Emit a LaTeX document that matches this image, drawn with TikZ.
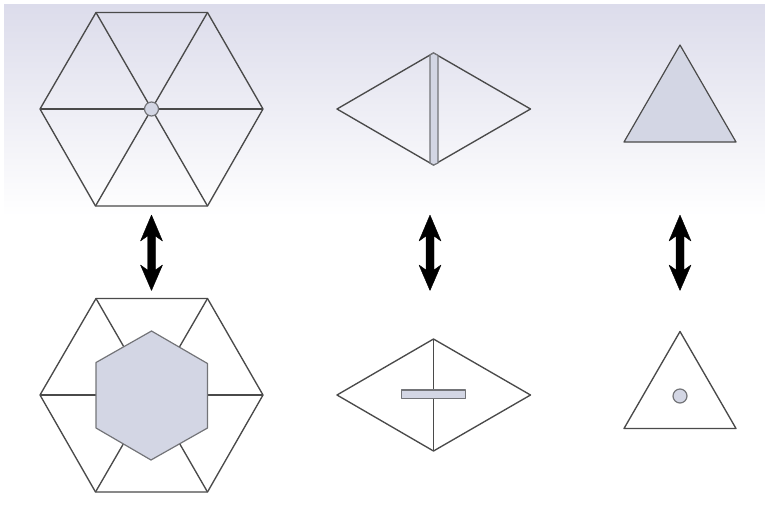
\documentclass[tikz,border=0pt]{standalone}
\definecolor{shapefill}{HTML}{D3D6E4}
\definecolor{edge}{HTML}{4A4A4A}
\definecolor{bgtop}{HTML}{DCDCEB}
\tikzset{
  outline/.style={draw=edge,line width=1.35pt,line join=round},
  part/.style={draw=edge!70!shapefill,line width=1.2pt,fill=shapefill,line join=round},
  bigarrow/.style={fill=black,draw=black,line width=0.4pt,line join=round},
  px/.style={x=1pt,y=-1pt}
}
\newcommand{\bothways}[1]{%
  \filldraw[bigarrow] (#1,215) -- ++(11,26) -- ++(-7,-5) -- ++(0,34) -- ++(7,-5) -- (#1,290.5) -- ++(-11,-25.5) -- ++(7,5) -- ++(0,-34) -- ++(-7,5) -- cycle;
}
\newcommand{\hexa}[1]{%
  \draw[outline] (96,#1-96.5) -- (207.5,#1-96.5) -- (263,#1) -- (207.5,#1+97) -- (95.5,#1+97) -- (40,#1) -- cycle;
  \draw[outline] (96,#1-96.5) -- (207.5,#1+97);
  \draw[outline] (207.5,#1-96.5) -- (95.5,#1+97);
  \draw[outline] (40,#1) -- (263,#1);
}
\newcommand{\rhomb}[1]{%
  \draw[outline] (337,#1) -- (433.5,#1-56) -- (530.5,#1) -- (433.5,#1+56) -- cycle;
}
\begin{document}
\begin{tikzpicture}[px]
\useasboundingbox (0,0) rectangle (765,504);
\shade[top color=bgtop,bottom color=white] (4,4) rectangle (765,216);
% top row
\hexa{109}
\filldraw[part] (151.5,109) circle (7);
\rhomb{109}
\filldraw[part] (430,55) -- (433.5,53) -- (438,55.5) -- (438,163) -- (433.5,165) -- (430,163) -- cycle;
\filldraw[part,draw=edge] (680,45) -- (736,142) -- (624,142) -- cycle;
% arrows
\bothways{151.5}
\bothways{430}
\bothways{680}
% bottom row
\hexa{395}
\filldraw[part] (151.5,331) -- (207.5,363.5) -- (207.5,428) -- (151,460) -- (96,428) -- (96,362.5) -- cycle;
\rhomb{395}
\draw[outline] (433.5,339) -- (433.5,451);
\filldraw[part] (401.7,390) rectangle (465.7,398.7);
\draw[outline] (680,331.5) -- (736,428.5) -- (624,428.5) -- cycle;
\filldraw[part] (680,396) circle (7);
\end{tikzpicture}
\end{document}
